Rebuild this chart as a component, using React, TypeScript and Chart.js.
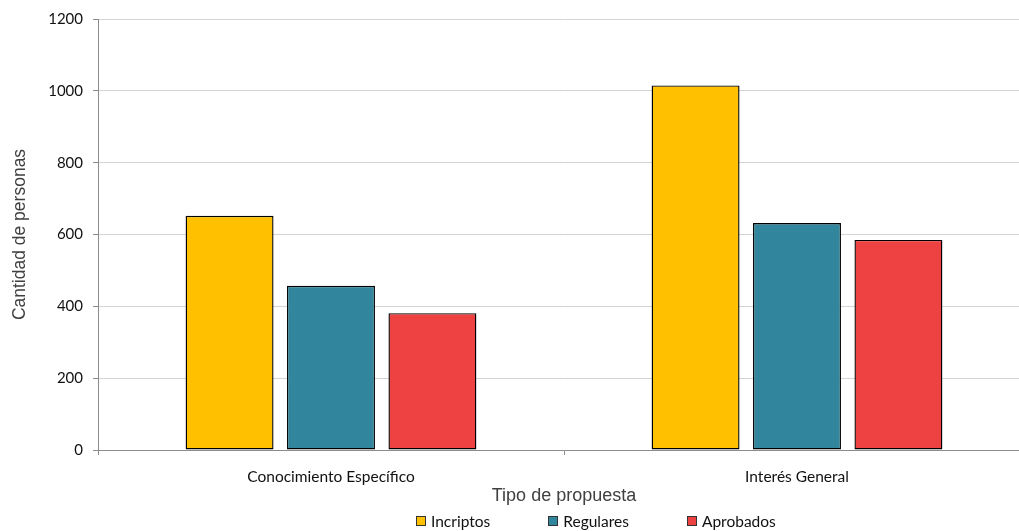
import React, { useEffect, useRef } from "react";
import { Chart, registerables } from "chart.js";

Chart.register(...registerables);

const categories = ["Conocimiento Específico", "Interés General"];
const seriesNames = ["Incriptos", "Regulares", "Aprobados"];
const incriptos = [652, 1015];
const regulares = [457, 632];
const aprobados = [381, 585];
const yTickValues = [0, 200, 400, 600, 800, 1000, 1200];
const seriesColors = ["#FFC000", "#31859C", "#EE4142"];
const xTitle = "Tipo de propuesta";
const yTitle = "Cantidad de personas";

const TICK_FONT = "Lato, 'Open Sans', sans-serif";
const TITLE_FONT = "'Liberation Sans', Arial, sans-serif";

export default function App() {
  const canvasRef = useRef<HTMLCanvasElement | null>(null);

  useEffect(() => {
    const canvas = canvasRef.current;
    if (!canvas) return;
    const values = [incriptos, regulares, aprobados];
    const chart = new Chart(canvas, {
      type: "bar",
      data: {
        labels: categories,
        datasets: seriesNames.map((name, i) => ({
          label: name,
          data: values[i],
          backgroundColor: seriesColors[i],
          borderColor: "#000",
          borderWidth: 1.4,
          borderSkipped: false,
          categoryPercentage: 0.653,
          barPercentage: 0.867,
        })),
      },
      options: {
        animation: false,
        responsive: false,
        maintainAspectRatio: false,
        layout: { padding: { top: 17, left: 0, right: 0, bottom: 0 } },
        plugins: {
          legend: { display: false },
          tooltip: { enabled: false },
        },
        scales: {
          x: {
            offset: true,
            afterFit: (scale: any) => {
              scale.height = 81;
            },
            grid: {
              offset: true,
              drawOnChartArea: false,
              drawTicks: true,
              tickLength: 5,
              color: "#8c8c8c",
            },
            border: { color: "#8c8c8c", width: 1 },
            ticks: {
              color: "#111",
              padding: 13,
              font: { family: TICK_FONT, size: 15.5 },
            },
            title: {
              display: true,
              text: xTitle,
              color: "#404040",
              font: { family: TITLE_FONT, size: 18, weight: "normal" },
              padding: { top: 0, bottom: 24 },
            },
          },
          y: {
            min: 0,
            max: 1200,
            afterFit: (scale: any) => {
              scale.width = 98;
            },
            afterBuildTicks: (scale: any) => {
              scale.ticks = yTickValues.map((v) => ({ value: v }));
            },
            grid: {
              color: "#d4d4d4",
              lineWidth: 1,
              drawTicks: true,
              tickLength: 5,
              tickColor: "#8c8c8c",
            },
            border: { color: "#8c8c8c", width: 1 },
            ticks: {
              color: "#111",
              padding: 10,
              font: { family: TICK_FONT, size: 15 },
              callback: (v: any) => String(v),
            },
            title: {
              display: true,
              text: yTitle,
              color: "#404040",
              font: { family: TITLE_FONT, size: 17.5, weight: "normal" },
              padding: { top: 10, bottom: 0 },
            },
          },
        },
      },
    });
    return () => chart.destroy();
  }, []);

  return (
    <div
      style={{
        position: "fixed",
        left: 0,
        top: 0,
        width: 1019,
        height: 531,
        overflow: "hidden",
        background: "#fff",
      }}
    >
      <canvas ref={canvasRef} width={1030} height={531} style={{ display: "block" }} />
      <div
        style={{
          position: "absolute",
          left: 416,
          top: 512,
          display: "flex",
          gap: 58,
          fontFamily: TICK_FONT,
          fontSize: 15.5,
          lineHeight: "18px",
          color: "#111",
          whiteSpace: "nowrap",
        }}
      >
        {seriesNames.map((name, i) => (
          <div key={name} style={{ display: "flex", alignItems: "center" }}>
            <span
              style={{
                display: "inline-block",
                width: 8,
                height: 8,
                background: seriesColors[i],
                border: "1px solid #333",
                marginRight: 5,
              }}
            />
            <span>{name}</span>
          </div>
        ))}
      </div>
    </div>
  );
}
